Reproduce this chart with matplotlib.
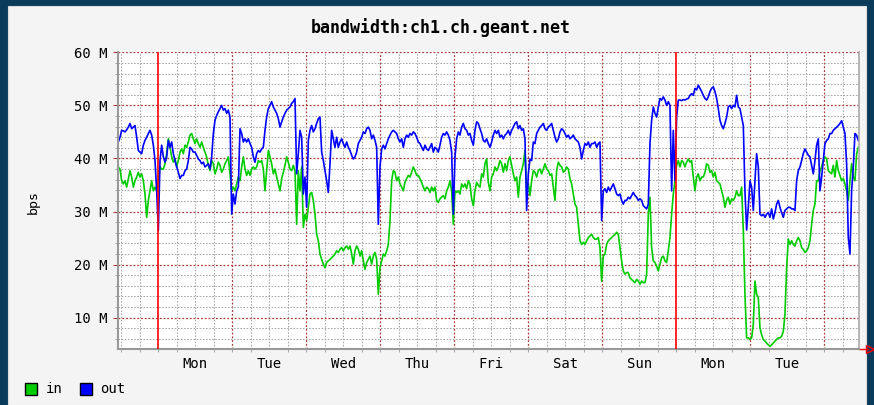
import numpy as np
import matplotlib.pyplot as plt
from matplotlib.patches import Rectangle

# time base: hours from Monday 00:00, one sample every ~32 min
t_start = -12.96
t_step = 0.5405

# bits per second, in millions
traffic_in = [
    38.4, 38.0, 35.8, 35.2, 35.8, 34.6, 36.2, 37.7, 36.5, 34.6,
    35.8, 36.5, 37.4, 36.5, 37.1, 35.8, 33.3, 28.9, 32.1, 33.9,
    35.8, 33.9, 34.6, 33.9, 35.8, 38.4, 38.0, 38.0, 39.0, 40.9,
    43.7, 42.1, 40.3, 39.3, 39.9, 38.4, 39.6, 41.2, 41.8, 40.9,
    42.5, 42.1, 43.1, 44.4, 44.7, 43.7, 42.8, 43.7, 42.8, 42.1,
    43.1, 42.1, 41.2, 40.3, 38.7, 37.7, 39.6, 39.0, 37.1, 38.0,
    39.3, 38.7, 37.4, 38.0, 39.0, 39.6, 40.3, 37.1, 33.9, 34.6,
    33.9, 35.2, 36.5,
    35.8, 38.4, 40.3, 38.0, 36.8, 37.7, 36.8, 38.0, 38.4, 38.0,
    38.4, 39.6, 39.3, 39.6, 38.0, 33.9, 37.7, 41.5, 40.3, 39.0,
    37.1, 38.0, 36.5, 35.2, 33.9, 36.2, 37.4, 38.7, 40.3, 39.3,
    38.0, 37.7, 38.7, 37.7, 27.6, 37.7, 33.9, 38.4, 27.0, 29.5,
    28.3, 30.8, 33.3, 33.6, 32.1, 29.5, 25.7, 24.5, 22.0, 21.0,
    20.1, 19.4, 20.4, 20.7, 21.0, 21.3, 21.6, 22.0, 22.6, 22.3,
    22.9, 23.2, 22.6, 23.2, 23.5, 22.9, 23.5, 22.0, 20.1, 22.6,
    23.5, 22.9, 21.6, 22.6, 20.7,
    19.1, 20.4, 21.0, 21.6, 20.1, 21.6, 22.3, 21.0, 14.4, 19.4,
    20.7, 22.0, 21.6, 22.6, 23.8, 28.3, 35.8, 37.7, 37.4, 35.8,
    36.5, 35.2, 34.6, 33.9, 35.5, 36.2, 36.8, 36.5, 37.4, 38.4,
    37.7, 36.8, 36.8, 36.2, 35.5, 34.6, 33.9, 34.6, 34.3, 33.6,
    34.6, 33.9, 34.6, 32.1, 31.7, 32.4, 32.7, 33.0, 32.4, 33.9,
    34.6, 35.8, 33.9, 27.6, 33.9, 33.6, 33.9, 33.3, 35.2, 34.6,
    35.2, 34.3, 35.8, 35.2, 32.4, 31.1, 33.9, 35.5, 34.9, 34.6,
    37.1, 36.5, 39.0, 39.9, 35.5,
    33.9, 36.5, 37.1, 38.4, 37.7, 38.4, 39.6, 39.0, 37.4, 39.0,
    37.7, 39.6, 40.3, 38.7, 37.1, 35.8, 36.5, 32.7, 36.5, 37.7,
    39.0, 41.5, 33.9, 35.2, 33.0, 35.8, 37.7, 37.4, 36.5, 37.7,
    38.0, 37.1, 38.0, 39.0, 38.0, 37.7, 36.8, 37.1, 34.6, 32.1,
    37.7, 39.3, 38.7, 38.4, 37.4, 37.7, 38.4, 38.0, 36.2, 35.2,
    33.3, 31.4, 30.8, 27.6, 24.5, 23.8, 24.2, 23.8, 24.5, 25.1,
    25.4, 25.7, 25.1, 24.8, 24.8, 25.1, 23.2, 16.9, 21.6, 22.0,
    23.8, 24.5, 24.8, 25.1, 25.4,
    25.7, 26.1, 25.7, 23.2, 20.7, 18.8, 18.2, 18.5, 18.5, 17.5,
    17.2, 16.9, 16.6, 17.2, 16.9, 16.3, 16.9, 16.6, 16.6, 18.2,
    29.5, 32.7, 23.2, 20.7, 20.4, 19.7, 18.8, 20.1, 21.3, 21.6,
    20.7, 20.4, 22.6, 25.1, 29.5, 33.3, 35.8, 38.7, 39.6, 38.4,
    39.6, 39.3, 38.4, 39.3, 39.9, 39.3, 39.6, 36.5, 33.9, 36.5,
    37.1, 35.8, 36.5, 36.5, 37.4, 39.0, 38.7, 37.4, 37.7, 36.5,
    37.4, 35.8, 35.5, 35.2, 33.9, 32.7, 30.8, 32.1, 32.7, 31.4,
    32.4, 32.1, 32.7, 33.9, 33.0,
    33.0, 34.6, 26.4, 14.4, 6.2, 6.2, 5.9, 6.2, 8.7, 16.9,
    14.4, 13.8, 8.1, 6.8, 5.9, 5.6, 5.2, 4.9, 4.6, 4.9,
    5.2, 5.6, 5.9, 6.2, 6.2, 6.5, 7.4, 10.6, 19.4, 24.8,
    23.8, 24.5, 23.8, 23.5, 24.5, 25.1, 24.5, 23.2, 22.9, 22.3,
    22.6, 23.2, 24.5, 27.6, 30.2, 31.4, 35.8, 35.8, 37.7, 38.4,
    39.6, 40.3, 39.9, 37.7, 37.4, 37.1, 38.7, 36.5, 39.6, 37.7,
    36.8, 35.8, 36.2, 35.2, 33.9, 32.1, 35.8, 39.0, 36.5, 35.8,
    40.9, 42.1,
]

traffic_out = [
    43.1, 44.0, 45.3, 45.2, 45.0, 45.4, 45.9, 46.6, 45.6, 45.9,
    46.2, 44.0, 41.5, 41.2, 40.9, 42.5, 43.4, 44.0, 44.7, 45.3,
    44.4, 42.5, 39.6, 33.9, 26.4, 39.6, 42.5, 40.3, 39.3, 40.3,
    43.4, 42.1, 43.1, 40.9, 39.6, 38.4, 37.4, 36.2, 36.8, 36.8,
    37.7, 38.0, 39.6, 42.1, 41.8, 41.2, 41.2, 40.6, 39.9, 39.6,
    39.0, 39.3, 38.4, 38.7, 39.0, 38.0, 40.3, 44.7, 47.2, 48.1,
    48.8, 49.4, 50.0, 49.1, 49.4, 48.5, 49.1, 47.8, 29.5, 33.3,
    31.4, 33.9, 34.6,
    45.6, 44.7, 43.1, 43.7, 43.1, 43.7, 42.8, 42.1, 40.3, 39.3,
    40.9, 41.5, 41.2, 41.8, 42.1, 45.3, 47.8, 49.4, 50.0, 50.7,
    49.7, 49.1, 48.5, 47.5, 45.9, 46.9, 47.8, 48.5, 49.1, 49.4,
    49.7, 50.4, 50.7, 51.3, 37.1, 40.9, 45.3, 44.0, 33.3, 36.5,
    30.8, 43.4, 45.3, 46.2, 45.0, 45.6, 46.6, 47.5, 47.8, 41.2,
    39.6, 37.7, 35.8, 33.6, 39.0, 45.3, 43.7, 42.1, 44.0, 42.1,
    43.1, 43.7, 42.8, 42.1, 43.1, 42.1, 41.5, 40.6, 39.9, 40.3,
    41.2, 42.8, 43.4, 44.0, 45.0,
    44.7, 45.6, 45.9, 45.3, 43.7, 44.4, 43.4, 42.1, 27.6, 38.4,
    41.8, 42.5, 41.8, 42.8, 43.7, 44.4, 45.0, 45.3, 45.0, 44.7,
    43.7, 43.1, 43.7, 42.1, 43.7, 44.4, 44.0, 44.7, 44.4, 45.0,
    44.7, 44.0, 43.1, 42.8, 42.1, 41.5, 42.5, 41.8, 41.5, 42.1,
    42.8, 41.2, 42.1, 41.8, 41.2, 42.5, 44.0, 44.7, 44.4, 45.0,
    44.4, 43.4, 41.2, 29.5, 40.3, 43.7, 45.0, 44.4, 45.9, 46.6,
    45.6, 45.3, 44.4, 44.7, 43.4, 42.5, 45.3, 46.9, 46.6, 45.6,
    44.7, 43.4, 43.1, 43.7, 42.8,
    42.1, 43.1, 44.4, 45.3, 44.7, 45.3, 44.0, 44.4, 43.7, 44.4,
    44.7, 45.3, 44.4, 45.3, 45.9, 46.6, 46.9, 45.6, 46.2, 45.3,
    45.6, 43.7, 30.2, 37.1, 39.9, 39.6, 43.1, 42.8, 44.7, 45.3,
    45.9, 46.2, 46.6, 45.6, 45.3, 45.9, 46.2, 46.6, 45.3, 44.0,
    43.1, 43.7, 45.0, 45.6, 45.3, 44.7, 44.0, 44.4, 43.7, 44.0,
    44.4, 43.7, 43.4, 43.1, 42.1, 39.9, 41.5, 42.8, 42.5, 43.1,
    42.1, 42.8, 42.8, 43.1, 42.1, 42.8, 43.1, 28.3, 33.9, 34.3,
    33.6, 34.6, 33.9, 34.6, 35.2,
    34.3, 33.3, 33.0, 33.3, 32.1, 31.4, 32.1, 32.1, 32.7, 32.4,
    33.0, 33.6, 33.0, 32.7, 32.1, 32.4, 32.1, 31.1, 30.8, 30.5,
    31.4, 42.8, 47.2, 49.7, 48.5, 47.8, 49.7, 51.3, 51.0, 51.6,
    51.0, 50.0, 50.7, 50.0, 33.9, 45.3, 35.8, 47.8, 51.0, 51.0,
    50.9, 51.1, 51.0, 51.2, 51.3, 51.9, 52.2, 51.9, 53.2, 52.9,
    53.8, 53.2, 52.6, 51.9, 51.3, 51.0, 51.6, 52.6, 53.2, 53.5,
    52.6, 51.3, 49.4, 47.2, 46.2, 45.6, 46.6, 47.8, 49.7, 50.0,
    49.4, 50.0, 49.7, 51.9, 49.7,
    49.4, 47.8, 46.2, 33.9, 26.5, 30.8, 35.8, 34.6, 30.2, 35.8,
    40.9, 38.4, 29.5, 29.2, 29.5, 28.9, 29.5, 29.8, 28.9, 30.5,
    28.6, 29.8, 31.4, 32.1, 30.8, 29.8, 28.9, 30.2, 30.5, 30.8,
    30.8, 30.5, 30.5, 30.2, 35.8, 37.7, 38.4, 39.6, 40.9, 41.8,
    41.2, 40.6, 40.3, 38.7, 37.1, 39.6, 42.5, 43.7, 33.9, 36.5,
    39.6, 42.8, 43.4, 43.7, 44.7, 44.7, 45.3, 45.6, 45.9, 46.2,
    46.6, 47.1, 45.9, 44.7, 39.0, 25.1, 22.0, 33.9, 38.4, 44.7,
    44.4, 43.4,
]

day_names = ['Mon', 'Tue', 'Wed', 'Thu', 'Fri', 'Sat', 'Sun', 'Mon', 'Tue']
y_ticks = [10, 20, 30, 40, 50, 60]
week_starts = [0, 168]

W, H = 874, 405
plt.rcParams['font.family'] = 'DejaVu Sans Mono'

fig = plt.figure(figsize=(W / 100, H / 100), dpi=100)
fig.patch.set_facecolor('#0b3b5b')
fig.patches.append(Rectangle((8 / W, 0), 858 / W, 399 / H, transform=fig.transFigure,
                             facecolor='#f4f4f4', edgecolor='#dcdcdc', lw=0.8, zorder=-10))

ax = fig.add_axes([118 / W, 56 / H, 741.3 / W, 296.7 / H])
ax.set_facecolor('white')
ax.set_xlim(-13.07, 227.35)
ax.set_ylim(4.1, 60)

dots = (0, (1.5, 1.5))
# grid
for h in np.arange(-12, 228, 6):
    if h % 24:
        ax.axvline(h, color='#a8a8a8', lw=0.75, ls=dots, zorder=1)
    elif h not in week_starts:
        ax.axvline(h, color='#a83a3a', lw=0.9, ls=dots, zorder=1)
for v in range(6, 61, 2):
    if v % 10:
        ax.axhline(v, color='#a8a8a8', lw=0.75, ls=dots, zorder=1)
    else:
        ax.axhline(v, color='#a83a3a', lw=0.9, ls=dots, zorder=1)

t_in = t_start + t_step * np.arange(len(traffic_in))
t_out = t_start + t_step * np.arange(len(traffic_out))
ax.plot(t_in, traffic_in, color='#00cc00', lw=1.2, zorder=2)
ax.plot(t_out, traffic_out, color='#0000ff', lw=1.2, zorder=2.1)

for w in week_starts:
    ax.axvline(w, color='#ff0000', lw=1.2, zorder=3)

ax.spines['top'].set_visible(False)
ax.spines['left'].set_color('#999999')
ax.spines['left'].set_linewidth(1.5)
ax.spines['bottom'].set_color('#999999')
ax.spines['bottom'].set_linewidth(1.5)
ax.spines['right'].set_color('#aaaaaa')
ax.spines['right'].set_linewidth(1.2)

ax.set_xticks([12 + 24 * i for i in range(len(day_names))], day_names)
ax.set_xticks(np.arange(-12, 228, 6), minor=True)
ax.tick_params(axis='x', which='major', length=0, pad=6, labelsize=10)
ax.tick_params(axis='x', which='minor', length=2.5, color='#999999')
ax.set_yticks(y_ticks, [f'{v} M' for v in y_ticks])
ax.set_yticks(range(6, 60, 2), minor=True)
ax.tick_params(axis='y', which='major', length=3.5, color='#a83a3a', pad=3.8, labelsize=10)
ax.tick_params(axis='y', which='minor', length=2, color='#999999')

# arrow at the end of the time axis
ax.plot([1.0, 1.012], [0, 0], transform=ax.transAxes, color='#ff0000', lw=1, clip_on=False)
ax.plot([1.015], [0], marker='>', markersize=6, mfc='none', mec='#ff0000', mew=1,
        transform=ax.transAxes, clip_on=False)

fig.text(441 / W, 1 - 28 / H, 'bandwidth:ch1.ch.geant.net', ha='center', va='center',
         fontsize=12, fontweight='bold')
fig.text(33 / W, 1 - 202 / H, 'bps', rotation=90, ha='center', va='center', fontsize=9.5)

fig.patches.append(Rectangle((25 / W, 1 - 395 / H), 12 / W, 12 / H, transform=fig.transFigure,
                             facecolor='#00cc00', edgecolor='black', lw=1))
fig.text(46 / W, 1 - 389 / H, 'in', va='center', fontsize=10)
fig.patches.append(Rectangle((80 / W, 1 - 395 / H), 12 / W, 12 / H, transform=fig.transFigure,
                             facecolor='#0000ff', edgecolor='black', lw=1))
fig.text(100 / W, 1 - 389 / H, 'out', va='center', fontsize=10)

fig.savefig('out.png', dpi=100, facecolor=fig.get_facecolor())
